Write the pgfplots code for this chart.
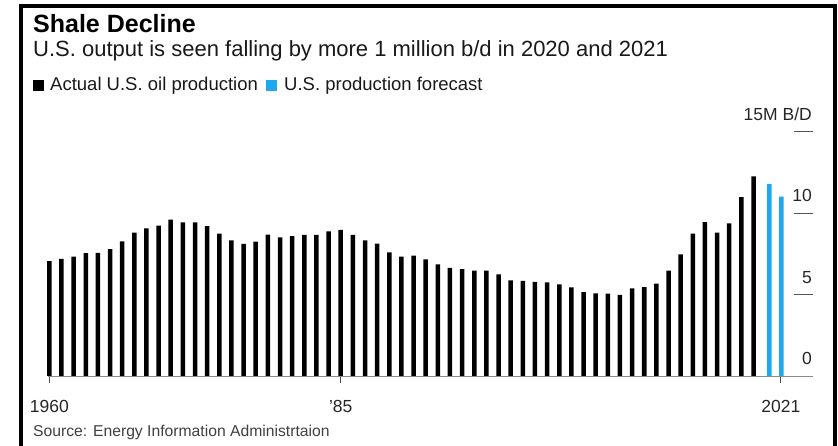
\documentclass[border=0pt]{standalone}
\usepackage{pgfplots}
\pgfplotsset{compat=1.18}
\usepackage{fontspec}
\setmainfont{Liberation Sans}
\definecolor{fcblue}{HTML}{1DA9EC}
\definecolor{axgray}{HTML}{8A8A8A}
\definecolor{dashgray}{HTML}{555555}
\begin{document}
\begin{tikzpicture}[x=1pt,y=1pt]
\useasboundingbox (0,0) rectangle (838,446);
\draw[line width=4pt] (21,-10) -- (21,440) -- (835,440) -- (835,-10);
\node[anchor=base west,inner sep=0pt,font=\fontsize{25}{29}\selectfont\bfseries] at (33,413) {Shale Decline};
\node[anchor=base west,inner sep=0pt,font=\fontsize{22}{26}\selectfont,text=black!90] at (33,389) {U.S. output is seen falling by more 1 million b/d in 2020 and 2021};
\fill[black] (33,355) rectangle (44,366);
\node[anchor=base west,inner sep=0pt,font=\fontsize{18.5}{22}\selectfont,text=black!90] at (50,355) {Actual U.S. oil production};
\fill[fcblue] (266,355) rectangle (277,366);
\node[anchor=base west,inner sep=0pt,font=\fontsize{18.5}{22}\selectfont,text=black!90] at (284,355) {U.S. production forecast};
\node[anchor=base west,inner sep=0pt,font=\fontsize{15.7}{19}\selectfont,text=black!75] at (33,9) {Source: Energy Information Administrtaion};
\begin{axis}[
  at={(48pt,70pt)}, anchor=south west,
  scale only axis, width=765pt, height=244.5pt,
  xmin=-0.11, xmax=62.9, ymin=0, ymax=15,
  axis x line*=bottom, axis y line*=right,
  x axis line style={axgray, line width=0.9pt},
  y axis line style={draw=none},
  xtick={0,24,60.25}, xticklabels={1960,'85,2021},
  ytick={0,5,10,15}, yticklabels={0,5,10,15M B/D},
  xtick align=outside, ytick align=inside,
  xtick style={/pgfplots/major tick length=7pt, black!70, line width=0.9pt},
  ytick style={/pgfplots/major tick length=19pt, dashgray, line width=0.9pt},
  every tick label/.append style={font=\fontsize{17.5}{21}\selectfont, text=black!85},
  /pgf/number format/assume math mode=true,
  xticklabel style={anchor=base, inner sep=0pt, yshift=-32pt},
  yticklabel style={anchor=base east, inner sep=0pt, xshift=-1pt, yshift=11pt},
  clip=false,
]
\addplot[ybar, bar width=4.5pt, bar shift=0pt, fill=black, draw=none] coordinates {
(0,7.04) (1,7.18) (2,7.33) (3,7.54) (4,7.56) (5,7.78) (6,8.26) (7,8.80) (8,9.05) (9,9.22)
(10,9.60) (11,9.43) (12,9.42) (13,9.19) (14,8.73) (15,8.32) (16,8.11) (17,8.24) (18,8.68) (19,8.50)
(20,8.58) (21,8.65) (22,8.66) (23,8.88) (24,8.96) (25,8.66) (26,8.32) (27,8.12) (28,7.58) (29,7.32)
(30,7.38) (31,7.16) (32,6.85) (33,6.64) (34,6.55) (35,6.46) (36,6.46) (37,6.24) (38,5.86) (39,5.84)
(40,5.78) (41,5.74) (42,5.62) (43,5.44) (44,5.15) (45,5.07) (46,5.06) (47,4.98) (48,5.38) (49,5.45)
(50,5.66) (51,6.47) (52,7.46) (53,8.74) (54,9.44) (55,8.80) (56,9.36) (57,10.98) (58,12.25)
};
\addplot[ybar, bar width=4.5pt, bar shift=0pt, fill=fcblue, draw=none] coordinates {
(59.3,11.78) (60.3,11.0)
};
\end{axis}
\end{tikzpicture}
\end{document}
